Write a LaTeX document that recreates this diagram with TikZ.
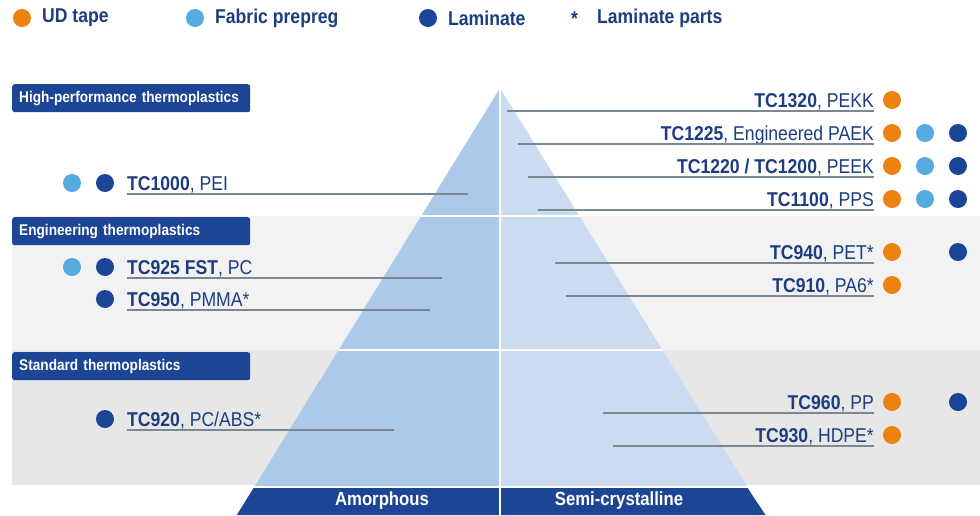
\documentclass[tikz,border=0pt]{standalone}
\usepackage{fontspec}
\setmainfont{Liberation Sans}[FakeStretch=0.88]
\definecolor{udorange}{HTML}{EC8210}
\definecolor{fabblue}{HTML}{55AADF}
\definecolor{lamblue}{HTML}{1B4597}
\definecolor{inkblue}{HTML}{1C3D80}
\definecolor{rulegrey}{HTML}{7C8794}
\definecolor{bandA}{HTML}{F2F2F2}
\definecolor{bandB}{HTML}{E7E7E7}
\definecolor{amorph}{HTML}{ADC9EA}
\definecolor{semic}{HTML}{CBDCF1}
\definecolor{boxblue}{HTML}{1D4596}
\begin{document}
\begin{tikzpicture}[x=1pt,y=-1pt,
  dot/.style={circle,inner sep=0pt,minimum size=18pt},
  ud/.style={dot,fill=udorange},
  fab/.style={dot,fill=fabblue},
  lam/.style={dot,fill=lamblue},
  item/.style={inner sep=0pt,text=inkblue,font=\fontsize{20}{23}\selectfont},
  legend/.style={inner sep=0pt,text=inkblue,font=\fontsize{20}{23}\selectfont\bfseries,anchor=west},
  catbox/.style={fill=boxblue,rounded corners=2.5pt,anchor=north west,minimum width=238pt,minimum height=28pt,
    text width=224pt,inner xsep=7pt,align=left,text=white,font=\fontsize{15.5}{17}\selectfont\bfseries},
  uline/.style={draw=rulegrey,line width=1.4pt},
  basetext/.style={text=white,font=\fontsize{19}{22}\selectfont\bfseries,inner sep=0pt}
]
\useasboundingbox (0,0) rectangle (980,515);
\fill[white] (0,0) rectangle (980,515);

% legend
\node[ud] (lg1) at (22,18) {};
\node[legend] (lt1) at (42,18) {UD tape};
\node[fab] (lg2) at (195,18) {};
\node[legend] (lt2) at (215,18) {Fabric prepreg};
\node[lam] (lg3) at (428,18) {};
\node[legend] (lt3) at (448,18) {Laminate};
\node[legend] (lg4) at (571,19) {*};
\node[legend] (lt4) at (597,18) {Laminate parts};

% background bands
\fill[bandA] (12,216) rectangle (980,350);
\fill[bandB] (12,350) rectangle (980,485);

% pyramid
\begin{scope}
  \clip (500,88) -- (254.8,486) -- (746.8,486) -- cycle;
  \fill[amorph] (240,80) rectangle (500,490);
  \fill[semic] (500,80) rectangle (760,490);
  \draw[white,line width=2pt] (240,216) -- (760,216);
  \draw[white,line width=2pt] (240,350) -- (760,350);
\end{scope}
\fill[boxblue] (253.6,488) -- (747.6,488) -- (765.5,515) -- (236.8,515) -- cycle;
\draw[white,line width=2pt] (500,88) -- (500,515);
\node[basetext] (am) at (382,501) {Amorphous};
\node[basetext] (sc) at (619,501) {Semi-crystalline};

% category labels
\node[catbox] (cat1) at (12,84) {High-performance thermoplastics};
\node[catbox] (cat2) at (12,217) {Engineering thermoplastics};
\node[catbox] (cat3) at (12,352) {Standard thermoplastics};

% semi-crystalline grades
\node[item,anchor=base east] (r1) at (874,107) {\textbf{TC1320}, PEKK};
\node[item,anchor=base east] (r2) at (874,140) {\textbf{TC1225}, Engineered PAEK};
\node[item,anchor=base east] (r3) at (874,173) {\textbf{TC1220 / TC1200}, PEEK};
\node[item,anchor=base east] (r4) at (874,206) {\textbf{TC1100}, PPS};
\node[item,anchor=base east] (r5) at (874,259) {\textbf{TC940}, PET*};
\node[item,anchor=base east] (r6) at (874,292) {\textbf{TC910}, PA6*};
\node[item,anchor=base east] (r7) at (874,409) {\textbf{TC960}, PP};
\node[item,anchor=base east] (r8) at (874,442) {\textbf{TC930}, HDPE*};

\coordinate (e1) at (507,111);
\coordinate (e2) at (518,144);
\coordinate (e3) at (528,177);
\coordinate (e4) at (538,210);
\coordinate (e5) at (555,263);
\coordinate (e6) at (566,296);
\coordinate (e7) at (603,413);
\coordinate (e8) at (613,446);
\foreach \i in {1,...,8}{\draw[uline] ([yshift=-4pt]r\i.base east) -- (e\i);}

\node[ud]  (r1a) at (892,100) {};
\node[ud]  (r2a) at (892,133) {};
\node[fab] (r2b) at (925,133) {};
\node[lam] (r2c) at (958,133) {};
\node[ud]  (r3a) at (892,166) {};
\node[fab] (r3b) at (925,166) {};
\node[lam] (r3c) at (958,166) {};
\node[ud]  (r4a) at (892,199) {};
\node[fab] (r4b) at (925,199) {};
\node[lam] (r4c) at (958,199) {};
\node[ud]  (r5a) at (892,252) {};
\node[lam] (r5c) at (958,252) {};
\node[ud]  (r6a) at (892,285) {};
\node[ud]  (r7a) at (892,402) {};
\node[lam] (r7c) at (958,402) {};
\node[ud]  (r8a) at (892,435) {};

% amorphous grades
\node[item,anchor=base west] (l1) at (127,190) {\textbf{TC1000}, PEI};
\node[item,anchor=base west] (l2) at (127,274) {\textbf{TC925 FST}, PC};
\node[item,anchor=base west] (l3) at (127,306) {\textbf{TC950}, PMMA*};
\node[item,anchor=base west] (l4) at (127,426) {\textbf{TC920}, PC/ABS*};

\coordinate (f1) at (468,194);
\coordinate (f2) at (442,278);
\coordinate (f3) at (430,310);
\coordinate (f4) at (394,430);
\foreach \i in {1,...,4}{\draw[uline] ([yshift=-4pt]l\i.base west) -- (f\i);}

\node[fab] (l1b) at (72,183) {};
\node[lam] (l1c) at (105,183) {};
\node[fab] (l2b) at (72,267) {};
\node[lam] (l2c) at (105,267) {};
\node[lam] (l3c) at (105,299) {};
\node[lam] (l4c) at (105,419) {};
\end{tikzpicture}
\end{document}
